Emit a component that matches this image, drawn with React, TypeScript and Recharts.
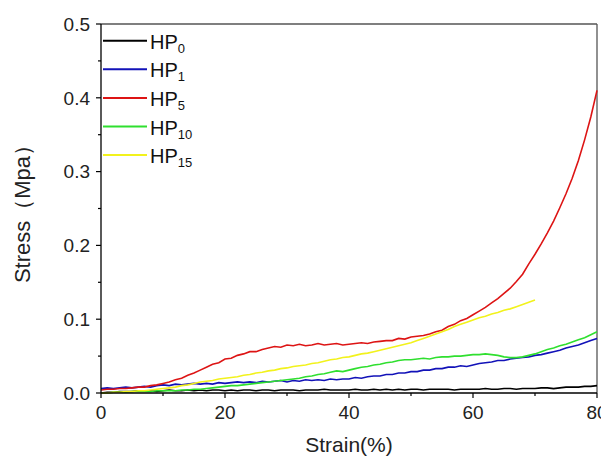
import React from "react";
import { LineChart, Line, XAxis, YAxis, ReferenceLine } from "recharts";

// strain (%) sampled every 1 %
const strain = [
  0, 1, 2, 3, 4, 5, 6, 7, 8, 9, 10, 11, 12, 13, 14, 15, 16, 17, 18, 19, 20,
  21, 22, 23, 24, 25, 26, 27, 28, 29, 30, 31, 32, 33, 34, 35, 36, 37, 38, 39, 40,
  41, 42, 43, 44, 45, 46, 47, 48, 49, 50, 51, 52, 53, 54, 55, 56, 57, 58, 59, 60,
  61, 62, 63, 64, 65, 66, 67, 68, 69, 70, 71, 72, 73, 74, 75, 76, 77, 78, 79, 80,
];

// stress (MPa)
const hp0 = [
  0.0, 0.001, 0.001, 0.002, 0.002, 0.002, 0.003, 0.003, 0.003, 0.002, 0.003,
  0.004, 0.003, 0.003, 0.004, 0.003, 0.004, 0.003, 0.004, 0.004, 0.003,
  0.004, 0.003, 0.004, 0.004, 0.003, 0.004, 0.004, 0.003, 0.004, 0.004,
  0.004, 0.003, 0.004, 0.004, 0.004, 0.005, 0.004, 0.004, 0.004, 0.004,
  0.005, 0.004, 0.004, 0.005, 0.004, 0.005, 0.004, 0.005, 0.004, 0.005,
  0.005, 0.004, 0.005, 0.005, 0.005, 0.005, 0.004, 0.005, 0.005, 0.005,
  0.005, 0.006, 0.005, 0.005, 0.006, 0.006, 0.005, 0.006, 0.006, 0.006,
  0.007, 0.007, 0.006, 0.007, 0.008, 0.008, 0.008, 0.009, 0.009, 0.01,
];
const hp1 = [
  0.006, 0.007, 0.006, 0.007, 0.008, 0.007, 0.008, 0.009, 0.008, 0.01, 0.011,
  0.01, 0.012, 0.011, 0.012, 0.013, 0.012, 0.013, 0.012, 0.014, 0.013,
  0.014, 0.015, 0.014, 0.015, 0.014, 0.016, 0.015, 0.016, 0.017, 0.015,
  0.017, 0.016, 0.018, 0.017, 0.018, 0.017, 0.019, 0.018, 0.019, 0.019,
  0.021, 0.02, 0.022, 0.023, 0.023, 0.025, 0.025, 0.027, 0.027, 0.029,
  0.029, 0.031, 0.031, 0.033, 0.033, 0.035, 0.035, 0.037, 0.036, 0.038,
  0.04, 0.041, 0.042, 0.044, 0.044, 0.046, 0.047, 0.048, 0.049, 0.051,
  0.052, 0.054, 0.056, 0.058, 0.061, 0.063, 0.065, 0.068, 0.071, 0.074,
];
const hp5 = [
  0.004, 0.005, 0.005, 0.006, 0.006, 0.007, 0.008, 0.008, 0.01, 0.011, 0.013,
  0.015, 0.018, 0.02, 0.024, 0.027, 0.031, 0.035, 0.039, 0.041, 0.046,
  0.047, 0.051, 0.053, 0.056, 0.056, 0.059, 0.061, 0.063, 0.062, 0.065,
  0.064, 0.066, 0.064, 0.065, 0.067, 0.065, 0.066, 0.067, 0.065, 0.066,
  0.067, 0.068, 0.067, 0.069, 0.07, 0.071, 0.071, 0.074, 0.073, 0.076,
  0.077, 0.078, 0.08, 0.083, 0.085, 0.09, 0.093, 0.098, 0.101, 0.106,
  0.111, 0.116, 0.122, 0.128, 0.135, 0.142, 0.151, 0.161, 0.175, 0.188,
  0.202, 0.217, 0.233, 0.251, 0.27, 0.291, 0.315, 0.343, 0.374, 0.41,
];
const hp10 = [
  0.0, 0.0, 0.001, 0.001, 0.001, 0.002, 0.002, 0.002, 0.002, 0.003, 0.003,
  0.003, 0.003, 0.004, 0.004, 0.005, 0.005, 0.006, 0.007, 0.008, 0.009,
  0.01, 0.01, 0.011, 0.012, 0.013, 0.014, 0.015, 0.016, 0.017, 0.018,
  0.019, 0.02, 0.022, 0.023, 0.025, 0.026, 0.028, 0.03, 0.029, 0.031,
  0.033, 0.035, 0.036, 0.038, 0.039, 0.041, 0.042, 0.044, 0.045, 0.045,
  0.046, 0.047, 0.046, 0.048, 0.049, 0.049, 0.05, 0.05, 0.051, 0.052,
  0.052, 0.053, 0.052, 0.051, 0.049, 0.048, 0.048, 0.049, 0.051, 0.053,
  0.056, 0.059, 0.061, 0.064, 0.066, 0.069, 0.072, 0.075, 0.079, 0.083,
];
const hp15 = [
  0.0, 0.0, 0.001, 0.001, 0.002, 0.002, 0.003, 0.003, 0.004, 0.005, 0.006,
  0.007, 0.008, 0.01, 0.011, 0.013, 0.015, 0.016, 0.017, 0.019, 0.02,
  0.021, 0.022, 0.024, 0.025, 0.027, 0.028, 0.03, 0.031, 0.033, 0.034,
  0.036, 0.037, 0.038, 0.04, 0.041, 0.043, 0.045, 0.046, 0.048, 0.049,
  0.051, 0.053, 0.054, 0.056, 0.058, 0.06, 0.062, 0.064, 0.066, 0.068,
  0.071, 0.074, 0.077, 0.08, 0.083, 0.086, 0.09, 0.093, 0.096, 0.099,
  0.102, 0.104, 0.107, 0.109, 0.112, 0.114, 0.117, 0.12, 0.123, 0.126,
];

const xTicks = [0, 10, 20, 30, 40, 50, 60, 70, 80];
const yTicks = [0, 0.05, 0.1, 0.15, 0.2, 0.25, 0.3, 0.35, 0.4, 0.45, 0.5];

const series = [
  { key: "hp0", sub: "0", color: "#000000", values: hp0 },
  { key: "hp1", sub: "1", color: "#1212b8", values: hp1 },
  { key: "hp5", sub: "5", color: "#dd1414", values: hp5 },
  { key: "hp10", sub: "10", color: "#2fdf2f", values: hp10 },
  { key: "hp15", sub: "15", color: "#f2f21c", values: hp15 },
];

const rows = strain.map((s, i) => {
  const row: Record<string, number | undefined> = { strain: s };
  series.forEach((sr) => {
    row[sr.key] = sr.values[i];
  });
  return row;
});

const FONT = "Arial, 'Liberation Sans', sans-serif";
const TICK_SIZE = 5;
const X_MARGIN = 8;
const Y_MARGIN = 6;

const XTick = (props: any) => {
  const { x, y, payload } = props;
  const major = payload.value % 20 === 0;
  const axisY = y - TICK_SIZE - X_MARGIN;
  return (
    <g>
      <line x1={x} x2={x} y1={axisY} y2={axisY + (major ? 5 : 3)} stroke="#000" strokeWidth={1.2} />
      {major && (
        <text x={x} y={axisY + 13} dy="0.71em" textAnchor="middle" fontSize={19} fill="#222" fontFamily={FONT}>
          {payload.value}
        </text>
      )}
    </g>
  );
};

const YTick = (props: any) => {
  const { x, y, payload } = props;
  const major = Math.round(payload.value * 100) % 10 === 0;
  const axisX = x + TICK_SIZE + Y_MARGIN;
  return (
    <g>
      <line x1={axisX - (major ? 5 : 3)} x2={axisX} y1={y} y2={y} stroke="#000" strokeWidth={1.2} />
      {major && (
        <text x={axisX - 11} y={y} dy="0.355em" textAnchor="end" fontSize={19} fill="#222" fontFamily={FONT}>
          {payload.value.toFixed(1)}
        </text>
      )}
    </g>
  );
};

const Legend = () => (
  <svg width={200} height={180} style={{ position: "absolute", left: 0, top: 0 }}>
    {series.map((sr, i) => {
      const y = 32.7 + i * 28.6;
      return (
        <g key={sr.key}>
          <line x1={95} x2={139} y1={y} y2={y} stroke={sr.color} strokeWidth={2} />
          <text x={142} y={y + 8} fontSize={20} fill="#111" fontFamily={FONT}>
            HP
            <tspan fontSize={13} dy={4}>{sr.sub}</tspan>
          </text>
        </g>
      );
    })}
  </svg>
);

export default function App() {
  return (
    <div style={{ position: "relative", width: 601, height: 454, fontFamily: FONT }}>
      <LineChart width={601} height={454} data={rows} margin={{ top: 16, right: 12, bottom: 0, left: 0 }}>
        <XAxis
          dataKey="strain"
          type="number"
          domain={[0, 80]}
          ticks={xTicks}
          interval={0}
          height={69}
          tickSize={TICK_SIZE}
          tickMargin={X_MARGIN}
          tickLine={false}
          axisLine={{ stroke: "#000", strokeWidth: 1.3 }}
          tick={<XTick />}
          label={{
            content: (p: any) => {
              const vb = p.viewBox;
              return (
                <text x={vb.x + vb.width / 2} y={vb.y + 59} textAnchor="middle" fontSize={21} fill="#222" fontFamily={FONT}>
                  Strain(%)
                </text>
              );
            },
          }}
        />
        <YAxis
          type="number"
          domain={[0, 0.5]}
          ticks={yTicks}
          interval={0}
          width={93}
          tickSize={TICK_SIZE}
          tickMargin={Y_MARGIN}
          tickLine={false}
          axisLine={{ stroke: "#000", strokeWidth: 1.3 }}
          tick={<YTick />}
          label={{
            content: (p: any) => {
              const vb = p.viewBox;
              const cx = vb.x + 22;
              const cy = vb.y + vb.height / 2;
              return (
                <text x={cx} y={cy} transform={`rotate(-90, ${cx}, ${cy})`} textAnchor="middle" fontSize={22} fill="#222" fontFamily={FONT}>
                  Stress（Mpa）
                </text>
              );
            },
          }}
        />
        <ReferenceLine y={0.5} stroke="#555" strokeWidth={1.3} />
        <ReferenceLine x={80} stroke="#555" strokeWidth={1.3} />
        {series.map((sr) => (
          <Line
            key={sr.key}
            dataKey={sr.key}
            type="linear"
            stroke={sr.color}
            strokeWidth={1.6}
            dot={false}
            isAnimationActive={false}
          />
        ))}
      </LineChart>
      <Legend />
    </div>
  );
}
